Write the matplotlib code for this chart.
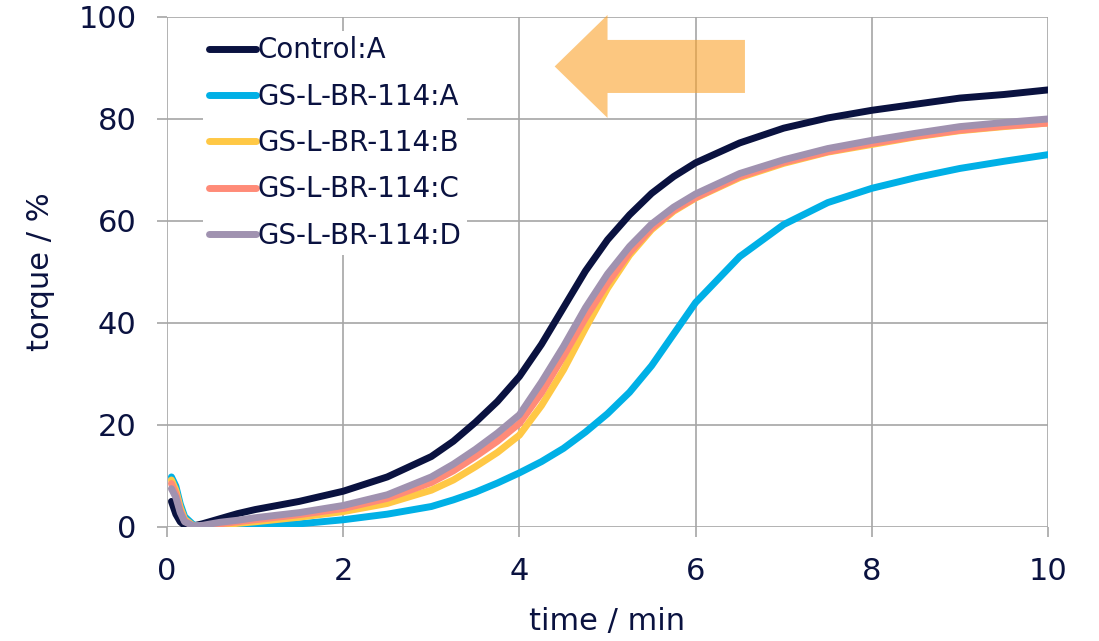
import matplotlib.pyplot as plt
from matplotlib.patches import FancyArrow

# Zeitpunkte (min) und Drehmoment (%)
t = [0.05, 0.1, 0.15, 0.2, 0.3, 0.4, 0.6, 0.8, 1.0, 1.5, 2.0, 2.5, 3.0, 3.25,
     3.5, 3.75, 4.0, 4.25, 4.5, 4.75, 5.0, 5.25, 5.5, 5.75, 6.0, 6.5, 7.0,
     7.5, 8.0, 8.5, 9.0, 9.5, 10.0]

control_a = [5.0, 2.5, 1.0, 0.3, 0.2, 0.6, 1.6, 2.6, 3.4, 5.0, 7.0, 9.8, 13.8,
             16.8, 20.5, 24.6, 29.5, 35.8, 43.0, 50.2, 56.3, 61.2, 65.4, 68.7,
             71.4, 75.3, 78.2, 80.2, 81.7, 82.9, 84.1, 84.8, 85.7]
gs_a = [9.8, 8.0, 4.5, 2.0, 0.4, 0.0, 0.0, 0.1, 0.2, 0.6, 1.4, 2.5, 4.0, 5.3,
        6.8, 8.6, 10.6, 12.8, 15.4, 18.6, 22.2, 26.4, 31.6, 37.8, 44.0, 53.0,
        59.3, 63.6, 66.4, 68.5, 70.3, 71.7, 73.0]
gs_b = [9.2, 7.2, 3.8, 1.5, 0.2, 0.0, 0.3, 0.7, 1.0, 1.9, 3.0, 4.6, 7.2, 9.2,
        11.8, 14.6, 18.0, 23.8, 30.8, 39.0, 46.8, 53.3, 58.3, 61.9, 64.5,
        68.5, 71.3, 73.5, 75.0, 76.5, 77.7, 78.5, 79.2]
gs_c = [8.5, 6.5, 3.2, 1.2, 0.1, 0.1, 0.6, 1.0, 1.4, 2.4, 3.6, 5.6, 8.7, 11.0,
        13.8, 16.8, 20.3, 26.3, 33.5, 41.0, 47.8, 53.8, 58.6, 62.1, 64.6,
        68.7, 71.5, 73.6, 75.2, 76.6, 77.8, 78.6, 79.2]
gs_d = [7.5, 5.8, 2.8, 1.0, 0.2, 0.3, 0.9, 1.3, 1.8, 2.8, 4.2, 6.3, 9.8, 12.3,
        15.2, 18.4, 22.0, 28.4, 35.4, 43.0, 49.6, 55.0, 59.4, 62.7, 65.3,
        69.3, 72.0, 74.2, 75.8, 77.2, 78.5, 79.3, 80.0]

series = [control_a, gs_a, gs_b, gs_c, gs_d]
labels = ['Control:A', 'GS-L-BR-114:A', 'GS-L-BR-114:B', 'GS-L-BR-114:C',
          'GS-L-BR-114:D']
colors = ['#0A1240', '#00B0E6', '#FFC845', '#FF8B78', '#A092B0']

navy = '#0A1240'
grid_col = '#A6A6A6'

plt.rcParams['font.family'] = ['DejaVu Sans']

fig = plt.figure(figsize=(10.99, 6.41), dpi=100)
ax = fig.add_axes([0.152, 0.178, 0.8016, 0.7955])

for y, lab, c in zip(series, labels, colors):
    ax.plot(t, y, color=c, lw=5, label=lab, solid_capstyle='round',
            solid_joinstyle='round', zorder=3)

# Pfeil
arrow = FancyArrow(6.56, 90.3, -2.16, 0, width=10.4, head_width=20.2,
                   head_length=0.6, length_includes_head=True,
                   facecolor='#FBA32B', edgecolor='none', alpha=0.6,
                   clip_on=False, zorder=2)
ax.add_patch(arrow)

ax.set_xlim(0, 10)
ax.set_ylim(0, 100)
ax.set_xticks([0, 2, 4, 6, 8, 10])
ax.set_yticks([0, 20, 40, 60, 80, 100])
ax.grid(True, color=grid_col, lw=1.2, zorder=0)
ax.set_axisbelow(True)
for s in ax.spines.values():
    s.set_visible(False)
ax.tick_params(axis='both', length=7, width=1.2, color=grid_col,
               labelsize=22, labelcolor=navy, pad=15)

ax.set_xlabel('time / min', fontsize=22, color=navy, labelpad=15)
ax.set_ylabel('torque / %', fontsize=22, color=navy, labelpad=17)

leg = ax.legend(loc='upper left', bbox_to_anchor=(0.025, 1.0), fontsize=20,
                frameon=True, framealpha=1, edgecolor='none', fancybox=False,
                handlelength=1.7, handletextpad=0.05, labelspacing=0.66,
                borderpad=0.2)
for txt in leg.get_texts():
    txt.set_color(navy)
leg.set_zorder(5)

fig.savefig('out.png', dpi=100)
